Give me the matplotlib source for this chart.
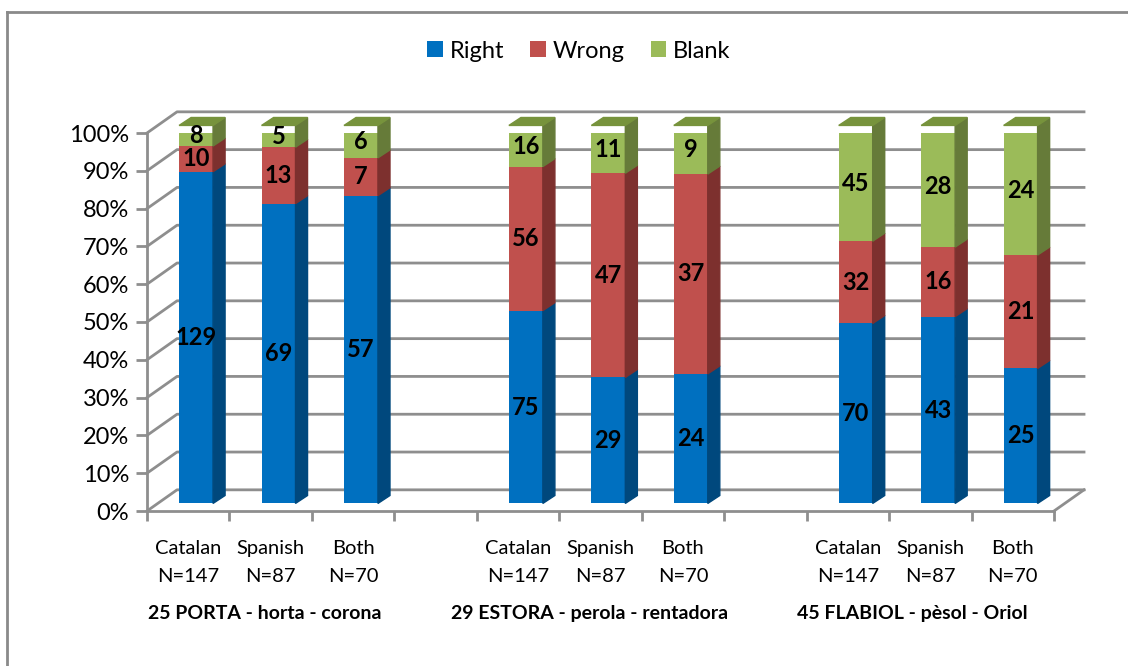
import matplotlib.pyplot as plt
from matplotlib.patches import Polygon
from matplotlib.lines import Line2D

plt.rcParams['font.family'] = ['Lato', 'DejaVu Sans']

# answer counts per bar: Right / Wrong / Blank
groups = ['25 PORTA - horta - corona', '29 ESTORA - perola - rentadora', '45 FLABIOL - pèsol - Oriol']
speakers = ['Catalan', 'Spanish', 'Both']
sizes = [147, 87, 70]
right = [129, 69, 57, 75, 29, 24, 70, 43, 25]
wrong = [10, 13, 7, 56, 47, 37, 32, 16, 21]
blank = [8, 5, 6, 16, 11, 9, 45, 28, 24]
series = ['Right', 'Wrong', 'Blank']

front_col = ['#0070C0', '#C0504D', '#9BBB59']
side_col = ['#00487D', '#7D302E', '#667B39']
top_col = ['#005A9C', '#9E3C3A', '#77933C']
grid_col = '#8e8e8e'

n_slots = 11
slots = [0, 1, 2, 4, 5, 6, 8, 9, 10]
wall_dx, wall_dy = 0.364, 5.6      # back wall offset (slots, %)
bar_dx, bar_dy = 0.146, 2.1        # bar depth
bar_w = 0.412
lift = 2.0

fig = plt.figure(figsize=(11.28, 6.66), dpi=100)
ax = fig.add_axes([147 / 1128, 155 / 666, (1054 - 147) / 1128, 378 / 666])
ax.set_xlim(0, n_slots)
ax.set_ylim(0, 100)

# back wall gridlines + left wall diagonals
for t in range(0, 101, 10):
    ax.add_line(Line2D([0, wall_dx, n_slots + wall_dx], [t, t + wall_dy, t + wall_dy],
                       color=grid_col, lw=2, zorder=1, clip_on=False))
# right edge of the floor
ax.add_line(Line2D([n_slots, n_slots + wall_dx], [0, wall_dy], color=grid_col, lw=2,
                   zorder=1, clip_on=False))

for s in ['top', 'right']:
    ax.spines[s].set_visible(False)
for s in ['left', 'bottom']:
    ax.spines[s].set_color(grid_col)
    ax.spines[s].set_linewidth(2)
ax.set_yticks(range(0, 101, 10))
ax.set_yticklabels([f'{t}%' for t in range(0, 101, 10)], fontsize=17)
ax.set_xticks(range(n_slots + 1))
ax.set_xticklabels([])
ax.tick_params(axis='y', length=8, width=2, color=grid_col, pad=5)
ax.tick_params(axis='x', length=7, width=2, color=grid_col)

counts = list(zip(right, wrong, blank))
for i, slot in enumerate(slots):
    n = sizes[i % 3]
    xc = slot + 0.5 + 0.095
    xl, xr = xc - bar_w / 2, xc + bar_w / 2
    bottom = lift
    for k, c in enumerate(counts[i]):
        h = c / n * 100
        ax.bar(xc, h, width=bar_w, bottom=bottom, color=front_col[k], zorder=3,
               label=series[k] if i == 0 else None)
        side = [(xr, bottom), (xr + bar_dx, bottom + bar_dy),
                (xr + bar_dx, bottom + h + bar_dy), (xr, bottom + h)]
        ax.add_patch(Polygon(side, closed=True, color=side_col[k], zorder=3, clip_on=False))
        if k == 2:
            top = [(xl, bottom + h), (xl + bar_dx, bottom + h + bar_dy),
                   (xr + bar_dx, bottom + h + bar_dy), (xr, bottom + h)]
            ax.add_patch(Polygon(top, closed=True, color=top_col[k], zorder=3, clip_on=False))
        ax.text(xc, bottom + h / 2, str(c), ha='center', va='center', fontsize=17,
                fontweight='bold', zorder=4)
        bottom += h

# category labels under the floor
for i, slot in enumerate(slots):
    ax.text(slot + 0.5, -9.8, speakers[i % 3], ha='center', va='center', fontsize=14.5,
            clip_on=False)
    ax.text(slot + 0.5, -17.2, f'N={sizes[i % 3]}', ha='center', va='center', fontsize=14.5,
            clip_on=False)
for g, xg in zip(groups, [1.43, 5.37, 9.28]):
    ax.text(xg, -27, g, ha='center', va='center', fontsize=14, fontweight='bold',
            clip_on=False)

fig.legend(loc='center', bbox_to_anchor=(579 / 1128, 1 - 51 / 666), ncol=3, frameon=False,
           fontsize=17, handlelength=0.65, handleheight=0.65, handletextpad=0.3,
           columnspacing=1.1)

# chart border
fig.add_artist(Line2D([7 / 1128, 7 / 1128], [0, 1 - 12 / 666], color='#8a8a8a', lw=2,
                      transform=fig.transFigure))
fig.add_artist(Line2D([7 / 1128, 1], [1 - 12 / 666, 1 - 12 / 666], color='#8a8a8a', lw=2,
                      transform=fig.transFigure))

fig.savefig('out.png', dpi=100)
